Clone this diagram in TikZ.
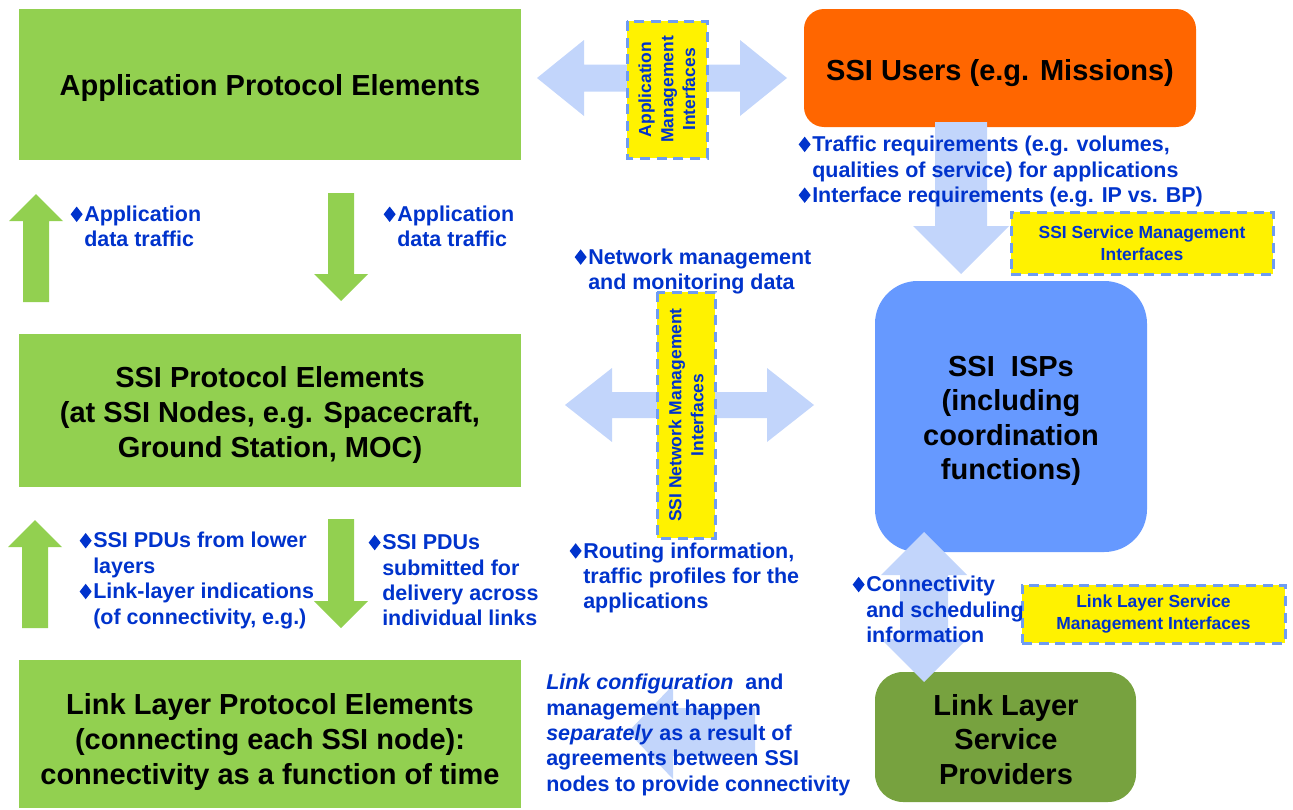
\documentclass[tikz,border=0pt]{standalone}
\usepackage{graphicx}
\usepackage{fontspec}
\setmainfont{Liberation Sans}
\definecolor{mygreen}{HTML}{92D050}
\definecolor{myorange}{HTML}{FF6600}
\definecolor{ispblue}{HTML}{6699FF}
\definecolor{llspgreen}{HTML}{77A23F}
\definecolor{arrowblue}{HTML}{C2D5FB}
\definecolor{dashblue}{HTML}{6E9CF3}
\definecolor{txtblue}{HTML}{0033CC}
\newcommand{\dia}{\llap{\raisebox{-0.4pt}{\resizebox{9pt}{11.6pt}{\rotatebox{45}{\rule{7pt}{7pt}}}}\hspace{1.2pt}}}
\begin{document}
\begin{tikzpicture}[x=0.75pt,y=-0.75pt,
  bigtext/.style={font=\fontsize{21.75}{25.9}\selectfont\bfseries, align=center, text=black, inner sep=0pt},
  bluetext/.style={font=\fontsize{16.1}{19.05}\selectfont\bfseries, align=left, text=txtblue, inner sep=0pt, anchor=west},
  ybox/.style={fill=yellow, draw=dashblue, line width=2.25pt, dash pattern=on 7.5pt off 5pt,
    inner sep=0pt, font=\fontsize{13.1}{16.5}\selectfont\bfseries, text=txtblue, align=center},
  lbarrow/.style={fill=arrowblue},
  grarrow/.style={fill=mygreen}
]
\useasboundingbox (0,0) rectangle (1293,810);

% green arrows
\path[grarrow] (23,302) -- (23,221) -- (9,221) -- (36,194) -- (63,221) -- (49,221) -- (49,302) -- cycle;
\path[grarrow] (328,193) -- (354,193) -- (354,274) -- (368,274) -- (341,301) -- (314,274) -- (328,274) -- cycle;
\path[grarrow] (22,628) -- (22,547) -- (8,547) -- (35,520) -- (62,547) -- (48,547) -- (48,628) -- cycle;
\path[grarrow] (328,519) -- (354,519) -- (354,601) -- (368,601) -- (341,628) -- (314,601) -- (328,601) -- cycle;

% boxes
\path[fill=mygreen] (19,9) rectangle (521,160);
\path[fill=mygreen] (19,334) rectangle (521,487);
\path[fill=mygreen] (19,660) rectangle (521,808);
\path[fill=myorange, rounded corners=15pt] (804,9) rectangle (1196,127);
\path[fill=ispblue, rounded corners=32pt] (875,281) rectangle (1147,552);
\path[fill=llspgreen, rounded corners=21pt] (875,672) rectangle (1136,802);

% light blue block arrows
\path[lbarrow] (537,78) -- (584,40) -- (584,64.5) -- (740,64.5) -- (740,40) -- (787,78) -- (740,116) -- (740,91.5) -- (584,91.5) -- (584,116) -- cycle;
\path[lbarrow] (565,405) -- (612,368) -- (612,392) -- (767,392) -- (767,368) -- (814,405) -- (767,442) -- (767,418) -- (612,418) -- (612,442) -- cycle;
\path[lbarrow] (935,122) -- (987,122) -- (987,226) -- (1009,226) -- (961,274) -- (913,226) -- (935,226) -- cycle;
\path[lbarrow] (924,532) -- (967,575) -- (948,575) -- (948,639) -- (967,639) -- (924,682) -- (881,639) -- (900,639) -- (900,575) -- (881,575) -- cycle;
\path[lbarrow] (628,732) -- (673,685) -- (673,708) -- (755,708) -- (755,756) -- (673,756) -- (673,779) -- cycle;

% yellow interface boxes
\node[ybox, rotate=90, minimum width=102.75pt, minimum height=60pt] (ami) at (667,89.5) {Application\\Management\\Interfaces};
\node[ybox, rotate=90, minimum width=184.5pt, minimum height=43.5pt] (nmi) at (686,415) {SSI Network Management\\Interfaces};
\node[ybox, minimum width=196.5pt, minimum height=46.5pt] (smi) at (1142,243) {SSI Service Management\\Interfaces};
\node[ybox, minimum width=197.25pt, minimum height=43.5pt] (lmi) at (1153.5,614) {Link Layer Service\\Management Interfaces};

% black texts
\node[bigtext] (appT) at (270,88) {Application Protocol Elements};
\node[bigtext] (ssiT) at (270,415) {SSI Protocol Elements\\(at SSI Nodes, e.g. Spacecraft,\\Ground Station, MOC)};
\node[bigtext] (llT) at (270,742) {Link Layer Protocol Elements\\(connecting each SSI node):\\connectivity as a function of time};
\node[bigtext] (usersT) at (1000,73) {SSI Users (e.g. Missions)};
\node[bigtext] (ispT) at (1011,421) {SSI\ \ ISPs\\(including\\coordination\\functions)};
\node[bigtext] (llspT) at (1006,739.5) {Link Layer\\Service\\Providers};

% blue texts
\node[bluetext] (b1) at (84,226.5) {\dia Application\\data traffic};
\node[bluetext] (b2) at (397,226.5) {\dia Application\\data traffic};
\node[bluetext] (b3) at (812,171.5) {\dia Traffic requirements (e.g. volumes,\\qualities of service) for applications\\\dia Interface requirements (e.g. IP vs. BP)};
\node[bluetext] (b4) at (588,271.5) {\dia Network management\\and monitoring data};
\node[bluetext] (b5) at (583,578) {\dia Routing information,\\traffic profiles for the\\applications};
\node[bluetext] (b6) at (866,609.5) {\dia Connectivity\\and scheduling\\information};
\node[bluetext] (b7) at (93,580.5) {\dia SSI PDUs from lower\\layers\\\dia Link-layer indications\\(of connectivity, e.g.)};
\node[bluetext] (b8) at (382,580.5) {\dia SSI PDUs\\submitted for\\delivery across\\individual links};
\node[bluetext] (b9) at (546,735) {\textit{Link configuration}\ \ and\\management happen\\\textit{separately} as a result of\\agreements between SSI\\nodes to provide connectivity};
\end{tikzpicture}
\end{document}
